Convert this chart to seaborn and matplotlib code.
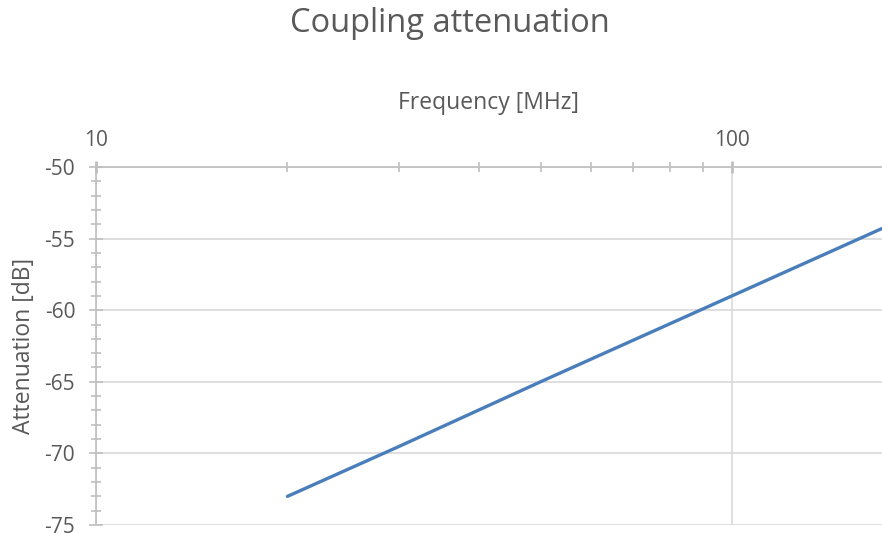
import numpy as np
import pandas as pd
import matplotlib
matplotlib.use("Agg")
import matplotlib.pyplot as plt
from matplotlib.ticker import FixedLocator, NullFormatter
import seaborn as sns

sns.set_style("white")
plt.rcParams['font.family'] = ['Open Sans', 'DejaVu Sans']

# values
freq_mhz = [20, 30, 50, 100, 172]
atten_db = [-73.0, -69.5, -65.0, -59.0, -54.3]
y_ticks = [-50, -55, -60, -65, -70, -75]
x_major = [10, 100]
x_minor = [20, 30, 40, 50, 60, 70, 80, 90]

grey_txt = "#595959"
grey_ln = "#bfbfbf"

df = pd.DataFrame({"freq": freq_mhz, "att": atten_db})

fig = plt.figure(figsize=(8.82, 5.33), dpi=100)
ax = fig.add_axes([96 / 882, 8 / 533, 1 - 96 / 882, (525 - 167) / 533])

sns.lineplot(data=df, x="freq", y="att", ax=ax, color="#4a7ebb", linewidth=2.4)

ax.set_xscale("log")
ax.set_xlim(10, 10 ** (1 + (882 - 96) / 636))
ax.set_ylim(-75, -50)

ax.xaxis.set_major_locator(FixedLocator(x_major))
ax.xaxis.set_minor_locator(FixedLocator(x_minor))
ax.set_xticklabels([str(v) for v in x_major])
ax.xaxis.set_minor_formatter(NullFormatter())
ax.xaxis.tick_top()
ax.xaxis.set_label_position("top")

ax.set_yticks(y_ticks)
ax.set_yticklabels([str(v) for v in y_ticks])
ax.yaxis.set_minor_locator(FixedLocator(np.arange(-75, -49, 1)))

ax.grid(True, which="major", color="#d9d9d9", linewidth=1.2)
ax.tick_params(axis="y", which="both", left=True, right=False)
ax.tick_params(axis="x", which="both", top=True, bottom=False)
ax.tick_params(axis="both", which="both", direction="inout", colors=grey_ln,
               labelcolor=grey_txt, labelsize=15, width=1.2)
ax.tick_params(axis="y", which="major", length=10, pad=10)
ax.tick_params(axis="y", which="minor", length=7)
ax.tick_params(axis="x", which="major", length=8, width=2, pad=7.5)
ax.tick_params(axis="x", which="minor", length=7)

for s in ["right", "bottom"]:
    ax.spines[s].set_visible(False)
for s in ["left", "top"]:
    ax.spines[s].set_color(grey_ln)
    ax.spines[s].set_linewidth(1.2)

ax.set_xlabel("Frequency [MHz]", color=grey_txt, fontsize=16.5, labelpad=15.5)
ax.set_ylabel("Attenuation [dB]", color=grey_txt, fontsize=16.5, labelpad=6)
fig.text(0.51, 0.955, "Coupling attenuation", ha="center", va="center",
         color=grey_txt, fontsize=23.5)

fig.savefig("out.png", dpi=100)
